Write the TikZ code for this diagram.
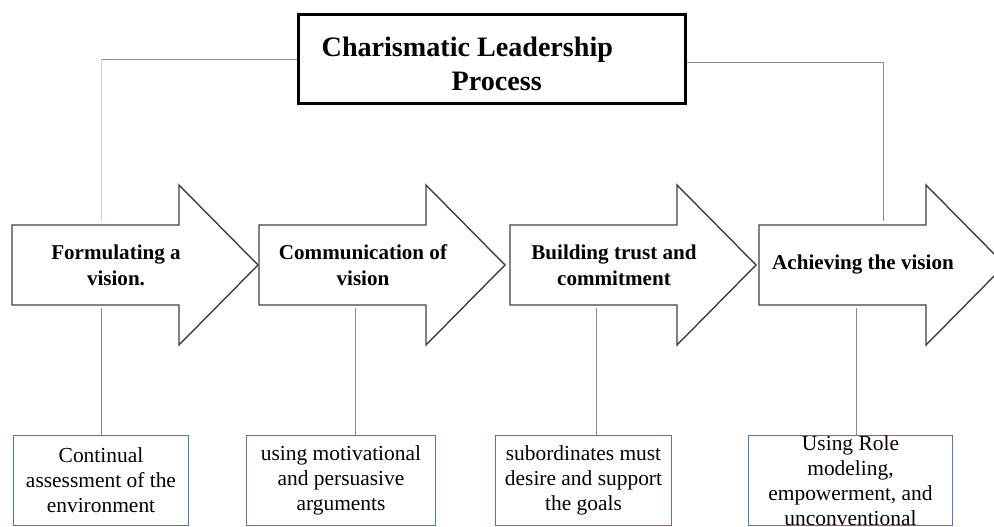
\documentclass[tikz,border=0pt]{standalone}
\usepackage{fontspec}
\setmainfont{Liberation Serif}
\usepackage{tikz}

\definecolor{boxblue}{RGB}{79,119,189}
\definecolor{linkgray}{RGB}{140,140,140}
\definecolor{paleblue}{RGB}{200,214,236}

\begin{document}
\begin{tikzpicture}[
    x=0.02cm, y=-0.02cm,
    heading/.style={draw, line width=1.9pt, minimum width=7.74cm, minimum height=1.78cm, inner sep=0pt},
    ttl/.style={font=\fontsize{16}{19.4}\selectfont\bfseries, align=left, inner sep=0pt},
    stage/.style={draw=black!75, line width=0.8pt, fill=white},
    stxt/.style={font=\fontsize{12}{14.8}\selectfont\bfseries, align=center, inner sep=0pt},
    note/.style={draw=boxblue, line width=0.7pt, minimum height=1.8cm, inner sep=0pt},
    ntxt/.style={font=\fontsize{12.2}{14.2}\selectfont, align=center, inner sep=0pt},
    link/.style={draw=linkgray, line width=0.55pt}
]
\useasboundingbox (0,0) rectangle (994,527);
\clip (0,0) rectangle (994,527);

\node[heading] (T) at (492,59) {};
\node[ttl, anchor=west] (Tt) at ([xshift=0.49cm,yshift=-0.09cm]T.west) {Charismatic Leadership\\\hspace*{74pt}Process};

% the four stages
\foreach \x in {12,259,510,759}{
  \draw[stage] (\x,225) -- ++(167,0) -- ++(0,-40) -- ++(79,80) -- ++(-79,80) -- ++(0,-40) -- ++(-167,0) -- cycle;
}
\node[stxt] (s1) at (116,265) {Formulating a\\vision.};
\node[stxt] (s2) at (363,265) {Communication of\\vision};
\node[stxt] (s3) at (614,265) {Building trust and\\commitment};
\node[stxt] (s4) at (863,265) {Achieving the vision};

\node[note, minimum width=3.5cm] (b1) at (101,480.5) {};
\node[note, minimum width=3.78cm] (b2) at (341,480.5) {};
\node[note, minimum width=3.52cm] (b3) at (583.5,480.5) {};
\node[note, minimum width=4.08cm] (b4) at (850.5,480.5) {};
\node[ntxt] (n1) at (b1) {Continual\\assessment of the\\environment};
\node[ntxt] (n2) at (b2) {using motivational\\and persuasive\\arguments};
\node[ntxt] (n3) at (b3) {subordinates must\\desire and support\\the goals};
\node[ntxt] (n4) at (b4) {Using Role\\modeling,\\empowerment, and\\unconventional};

% title to first and last stage
\coordinate (k1) at (101,221);
\coordinate (k4) at (883,221);
\draw[link] (T.west) -- (T.west -| k1);
\draw[link, draw=paleblue] (T.west -| k1) -- (k1);
\draw[link] ([yshift=-0.06cm]T.east) -| (k4);

% stages down to their notes
\coordinate (d1) at (101,308);
\coordinate (d2) at (355,308);
\coordinate (d3) at (596,308);
\coordinate (d4) at (856,308);
\draw[link] (d1) -- (d1 |- b1.north);
\draw[link] (d2) -- (d2 |- b2.north);
\draw[link] (d3) -- (d3 |- b3.north);
\draw[link] (d4) -- (d4 |- b4.north);
\end{tikzpicture}
\end{document}
